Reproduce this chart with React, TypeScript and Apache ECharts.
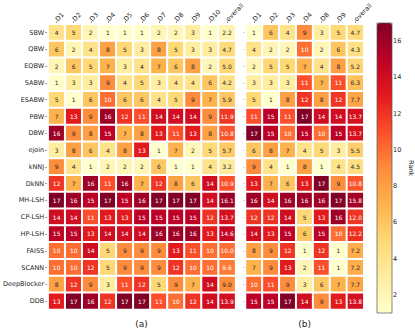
import React, { useEffect, useRef } from "react";
import * as echarts from "echarts";

const methods = ["SBW", "QBW", "EQBW", "SABW", "ESABW", "PBW", "DBW", "ejoin", "kNNJ", "DkNN", "MH-LSH", "CP-LSH", "HP-LSH", "FAISS", "SCANN", "DeepBlocker", "DDB"];
const colsA = ["D1", "D2", "D3", "D4", "D5", "D6", "D7", "D8", "D9", "D10", "overall"];
const colsB = ["D1", "D2", "D3", "D4", "D8", "D9", "overall"];

const ranksA = [
  [4, 5, 2, 1, 1, 1, 2, 2, 3, 1],
  [6, 2, 4, 8, 5, 3, 8, 5, 3, 3],
  [2, 6, 5, 7, 3, 4, 7, 6, 8, 2],
  [1, 3, 3, 9, 4, 5, 3, 4, 4, 6],
  [5, 1, 6, 10, 6, 6, 4, 5, 9, 7],
  [7, 13, 9, 16, 12, 11, 14, 14, 14, 9],
  [16, 9, 8, 15, 7, 8, 13, 11, 13, 8],
  [3, 8, 6, 4, 8, 13, 1, 7, 2, 5],
  [9, 4, 1, 2, 2, 2, 6, 1, 1, 4],
  [12, 7, 16, 11, 16, 7, 12, 8, 6, 14],
  [17, 16, 15, 17, 15, 16, 17, 17, 17, 14],
  [14, 14, 11, 13, 13, 15, 15, 15, 15, 12],
  [15, 15, 13, 14, 14, 14, 16, 16, 16, 13],
  [10, 10, 14, 5, 9, 9, 9, 13, 11, 10],
  [10, 10, 12, 5, 9, 9, 9, 12, 10, 10],
  [8, 12, 9, 3, 11, 12, 5, 9, 7, 14],
  [13, 17, 16, 12, 17, 17, 11, 10, 12, 14],
];
const overallA = [2.2, 4.7, 5.0, 4.2, 5.9, 11.9, 10.8, 5.7, 3.2, 10.9, 16.1, 13.7, 14.6, 10.0, 9.6, 9.0, 13.9];

const ranksB = [
  [1, 6, 4, 9, 3, 5],
  [4, 2, 2, 10, 2, 6],
  [2, 5, 5, 7, 4, 8],
  [3, 3, 3, 11, 7, 11],
  [5, 1, 8, 12, 8, 12],
  [11, 15, 11, 17, 14, 14],
  [17, 15, 10, 15, 10, 15],
  [6, 8, 7, 4, 5, 3],
  [9, 4, 1, 8, 1, 4],
  [13, 7, 6, 13, 17, 9],
  [16, 14, 16, 16, 16, 17],
  [12, 12, 14, 5, 13, 16],
  [14, 13, 15, 6, 15, 10],
  [8, 9, 12, 1, 12, 1],
  [7, 9, 13, 2, 11, 1],
  [10, 11, 9, 3, 6, 7],
  [15, 15, 17, 14, 9, 13],
];
const overallB = [4.7, 4.3, 5.2, 6.3, 7.7, 13.7, 13.7, 5.5, 4.5, 10.8, 15.8, 12.0, 12.2, 7.2, 7.2, 7.7, 13.8];

const colorbarTicks = [2, 4, 6, 8, 10, 12, 14, 16];
const ylorrd = ["#ffffcc", "#ffeda0", "#fed976", "#feb24c", "#fd8d3c", "#fc4e2a", "#e31a1c", "#bd0026", "#800026"];

const FONT = "DejaVu Sans";

function buildData(ranks: number[][], overall: number[]) {
  const out: any[] = [];
  ranks.forEach((row, r) => {
    const vals = [...row, overall[r]];
    vals.forEach((v, c) => {
      const isOverall = c === vals.length - 1;
      out.push({
        value: [c, r, v],
        label: {
          formatter: isOverall ? v.toFixed(1) : String(v),
          color: v >= 9.5 ? "#ffffff" : "#262626",
        },
      });
    });
  });
  return out;
}

export default function App() {
  const ref = useRef<HTMLDivElement>(null);
  useEffect(() => {
    if (!ref.current) return;
    const chart = echarts.init(ref.current, null, { renderer: "svg" });
    const cell = 17;
    const topY = 20.5;
    const hA = methods.length * cell;
    const leftA = 47.5;
    const wA = colsA.length * 17.1;
    const leftB = 245.5;
    const wB = colsB.length * 16.9;
    const axisText = { fontFamily: FONT, fontSize: 6.5, color: "#262626" };
    const xLabel = { ...axisText, rotate: -45, margin: 4, interval: 0, hideOverlap: false, overflow: "none", width: 80 };
    const option: any = {
      animation: false,
      backgroundColor: "#ffffff",
      textStyle: { fontFamily: FONT },
      grid: [
        { left: leftA, top: topY, width: wA, height: hA },
        { left: leftB, top: topY, width: wB, height: hA },
        { left: 377, top: 23, width: 15, height: 290 },
      ],
      xAxis: [
        {
          type: "category", gridIndex: 0, data: colsA, position: "top",
          axisLine: { show: false },
          axisTick: { show: true, alignWithLabel: true, interval: 0, length: 3, lineStyle: { color: "#444", width: 0.6 } },
          axisLabel: xLabel,
        },
        {
          type: "category", gridIndex: 1, data: colsB, position: "top",
          axisLine: { show: false },
          axisTick: { show: true, alignWithLabel: true, interval: 0, length: 3, lineStyle: { color: "#444", width: 0.6 } },
          axisLabel: xLabel,
        },
        { type: "value", gridIndex: 2, show: false, min: 0, max: 1 },
      ],
      yAxis: [
        {
          type: "category", gridIndex: 0, data: methods, inverse: true,
          axisLine: { show: false },
          axisTick: { show: true, alignWithLabel: true, interval: 0, length: 3, lineStyle: { color: "#444", width: 0.6 } },
          axisLabel: { ...axisText, margin: 4, interval: 0 },
        },
        {
          type: "category", gridIndex: 1, data: methods, inverse: true,
          axisLine: { show: false },
          axisTick: { show: true, alignWithLabel: true, interval: 0, length: 2, lineStyle: { color: "#444", width: 0.6 } },
          axisLabel: { show: false },
        },
        {
          type: "value", gridIndex: 2, min: 1, max: 17, position: "right",
          axisLine: { show: false },
          splitLine: { show: false },
          axisTick: { show: true, length: 3, customValues: colorbarTicks, lineStyle: { color: "#444", width: 0.6 } },
          axisLabel: { ...axisText, margin: 4, customValues: colorbarTicks },
          name: "Rank", nameLocation: "middle", nameRotate: -90, nameGap: 18,
          nameTextStyle: { fontFamily: FONT, fontSize: 6.5, color: "#262626" },
        },
      ],
      visualMap: {
        type: "continuous", min: 1, max: 17, seriesIndex: [0, 1],
        inRange: { color: ylorrd },
        orient: "vertical", left: 377, top: 23, itemWidth: 15, itemHeight: 290,
        padding: 0, calculable: false, hoverLink: false, text: null, show: true,
      },
      graphic: [
        { type: "rect", shape: { x: 377, y: 23, width: 15, height: 290 }, style: { fill: "none", stroke: "#555", lineWidth: 0.7 }, z: 100 },
        { type: "text", x: leftA + wA / 2, y: 324, style: { text: "(a)", font: `9px ${FONT}`, fill: "#222", align: "center", verticalAlign: "middle" } },
        { type: "text", x: leftB + wB / 2, y: 324, style: { text: "(b)", font: `9px ${FONT}`, fill: "#222", align: "center", verticalAlign: "middle" } },
      ],
      series: [
        {
          type: "heatmap", xAxisIndex: 0, yAxisIndex: 0,
          data: buildData(ranksA, overallA),
          itemStyle: { borderColor: "#ffffff", borderWidth: 2 },
          label: { show: true, fontFamily: FONT, fontSize: 6 },
        },
        {
          type: "heatmap", xAxisIndex: 1, yAxisIndex: 1,
          data: buildData(ranksB, overallB),
          itemStyle: { borderColor: "#ffffff", borderWidth: 2 },
          label: { show: true, fontFamily: FONT, fontSize: 6 },
        },
      ],
    };
    chart.setOption(option);
    return () => chart.dispose();
  }, []);
  return <div ref={ref} style={{ position: "fixed", left: 0, top: 0, width: 415, height: 330 }} />;
}
